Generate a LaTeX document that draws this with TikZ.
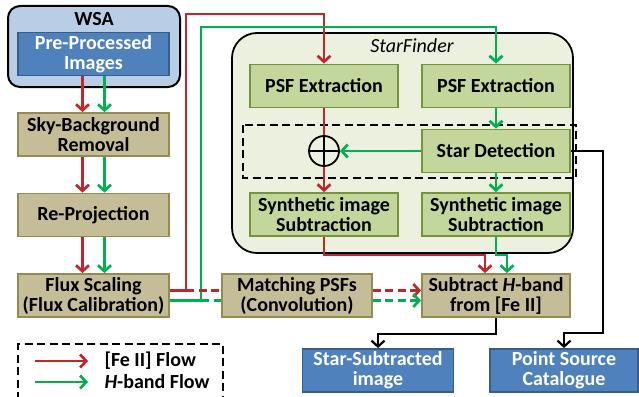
\documentclass[tikz,border=0pt]{standalone}
\usepackage{fontspec}
\setmainfont{Carlito}
\usetikzlibrary{arrows.meta}
\definecolor{feRed}{RGB}{192,39,45}
\definecolor{hGreen}{RGB}{0,176,80}
\definecolor{tanFill}{RGB}{196,189,151}
\definecolor{tanLine}{RGB}{148,138,84}
\definecolor{grFill}{RGB}{195,214,155}
\definecolor{grLine}{RGB}{119,147,60}
\definecolor{blFill}{RGB}{79,129,189}
\definecolor{blLine}{RGB}{56,93,138}
\definecolor{wsaFill}{RGB}{185,205,229}
\definecolor{sfFill}{RGB}{235,241,222}

\begin{document}
\begin{tikzpicture}[x=1pt,y=-1pt,
    box/.style={line width=1.8pt, minimum width=151pt, minimum height=43pt,
      inner sep=0pt, align=center, font=\fontsize{20}{20}\selectfont\bfseries},
    tanbox/.style={box, draw=tanLine, fill=tanFill},
    grbox/.style={box, draw=grLine, fill=grFill, minimum width=148pt},
    blbox/.style={box, draw=blLine, fill=blFill, text=white},
    flow/.style={line width=2.7pt, -{Straight Barb[length=6pt,width=13pt]}},
    fe/.style={flow, draw=feRed},
    hb/.style={flow, draw=hGreen},
    res/.style={flow, draw=black, line width=2.2pt},
    dashline/.style={dash pattern=on 8pt off 4.5pt},
  ]
  \useasboundingbox (0,0) rectangle (639,396);

  % frames
  \draw[fill=wsaFill, line width=2pt, rounded corners=12pt] (8,6) rectangle (180,87);
  \node[font=\fontsize{20}{20}\selectfont\bfseries] (wsa) at (94,19) {WSA};
  \draw[fill=sfFill, line width=1.8pt, rounded corners=25pt] (232,33) rectangle (573,253);
  \node[font=\fontsize{20}{20}\selectfont\itshape] (sf) at (412,46) {StarFinder};
  \draw[line width=1.8pt, dashline] (243,125) rectangle (576,178);

  % nodes
  \node[blbox] (pre) at (93.5,54) {Pre-Processed\\Images};
  \node[tanbox] (sky) at (93.5,134.5) {Sky-Background\\Removal};
  \node[tanbox] (reproj) at (93.5,215) {Re-Projection};
  \node[tanbox] (flux) at (93.5,295.5) {Flux Scaling\\(Flux Calibration)};
  \node[tanbox, minimum width=150pt] (match) at (297,295.5) {Matching PSFs\\(Convolution)};
  \node[tanbox, minimum width=148pt] (subtr) at (496,295.5) {Subtract \textit{H}-band\\from [Fe II]};
  \node[grbox] (psfA) at (324,86) {PSF Extraction};
  \node[grbox] (psfB) at (496,86) {PSF Extraction};
  \node[grbox] (detect) at (496,151) {Star Detection};
  \node[grbox] (synA) at (324,214.5) {Synthetic image\\Subtraction};
  \node[grbox] (synB) at (496,214.5) {Synthetic image\\Subtraction};
  \node[draw, line width=1.8pt, circle, minimum size=30pt, inner sep=0pt] (sum) at (324,151) {};
  \draw[line width=1.8pt] (sum.north) -- (sum.south) (sum.west) -- (sum.east);
  \node[blbox] (starsub) at (378,370.5) {Star-Subtracted\\image};
  \node[blbox, minimum width=148pt] (catalog) at (564,370.5) {Point Source\\Catalogue};

  % left column
  \foreach \a/\b in {pre/sky,sky/reproj,reproj/flux}{
    \draw[fe] ([xshift=-11pt]\a.south) -- ([xshift=-11pt]\b.north);
    \draw[hb] ([xshift=11pt]\a.south) -- ([xshift=11pt]\b.north);
  }

  % flux scaling outputs
  \coordinate (feturn) at (186,290.5);
  \coordinate (hturn) at (201,300.5);
  \draw[fe] ([yshift=5pt]flux.east) -- (feturn) -- (186,14) -| (psfA.north);
  \draw[hb] ([yshift=-5pt]flux.east) -- (hturn) -- (201,27) -| (psfB.north);
  \draw[fe, dashline, -] (feturn) -- ([yshift=5pt]match.west);
  \draw[hb, dashline, -] (hturn) -- ([yshift=-5pt]match.west);
  \draw[fe, dashline] ([yshift=5pt]match.east) -- ([yshift=5pt]subtr.west);
  \draw[hb, dashline] ([yshift=-5pt]match.east) -- ([yshift=-5pt]subtr.west);

  % StarFinder
  \draw[fe, -] (psfA) -- (sum);
  \draw[fe] (sum) -- (synA);
  \draw[hb] (psfB) -- (detect);
  \draw[hb] (detect) -- (synB);
  \draw[hb] (detect) -- (sum);
  \draw[fe] (synA.south) |- (485,255) -- ([xshift=-11pt]subtr.north);
  \draw[hb] (synB.south) |- (507,255) -- ([xshift=11pt]subtr.north);

  % results
  \draw[res] (subtr.south) -- ++(0,16) -| (starsub.north);
  \draw[res] (detect.east) -| (603,333) -| (catalog.north);

  % legend
  \draw[line width=1.8pt, dashline] (18,400) |- (223,344) -- (223,400);
  \draw[fe] (35,361) -- (88,361);
  \draw[hb] (35,382) -- (88,382);
  \node[anchor=west, font=\fontsize{20}{20}\selectfont\bfseries] (feleg) at (101,361) {[Fe II] Flow};
  \node[anchor=west, font=\fontsize{20}{20}\selectfont\bfseries] (hleg) at (101,382) {\textit{H}-band Flow};
\end{tikzpicture}
\end{document}
